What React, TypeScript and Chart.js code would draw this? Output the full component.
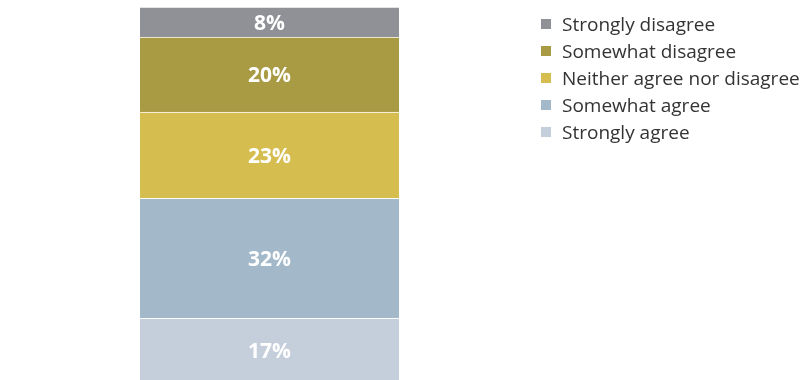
import React, { useEffect, useRef } from "react";
import { Chart, registerables } from "chart.js";

Chart.register(...registerables);

// stack order: bottom to top
const categories = ["Responses"];
const seriesLabels = ["Strongly agree", "Somewhat agree", "Neither agree nor disagree", "Somewhat disagree", "Strongly disagree"];
const seriesValues = [17, 32, 23, 20, 8];
const seriesColors = ["#c5cedb", "#a3b9c9", "#d6bd4f", "#a99b44", "#8f9196"];
const legendOrder = [4, 3, 2, 1, 0];

const labelPlugin = {
  id: "segLabels",
  afterDatasetsDraw(chart: any) {
    const ctx = chart.ctx;
    ctx.save();
    ctx.fillStyle = "#ffffff";
    ctx.font = "bold 21px 'Open Sans', sans-serif";
    ctx.textAlign = "center";
    ctx.textBaseline = "middle";
    chart.data.datasets.forEach((ds: any, i: number) => {
      const meta = chart.getDatasetMeta(i);
      meta.data.forEach((el: any, j: number) => {
        const v = ds.data[j];
        const yc = (el.y + el.base) / 2;
        ctx.fillText(v + "%", el.x, yc + 2);
      });
    });
    ctx.restore();
  },
};

export default function App() {
  const ref = useRef<HTMLCanvasElement | null>(null);
  useEffect(() => {
    if (!ref.current) return;
    const chart = new Chart(ref.current, {
      type: "bar",
      data: {
        labels: categories,
        datasets: seriesLabels.map((l, i) => ({
          label: l,
          data: [seriesValues[i]],
          backgroundColor: seriesColors[i],
          borderColor: "rgba(255,255,255,0.55)",
          borderWidth: { top: 1, bottom: 0, left: 0, right: 0 },
          borderSkipped: false,
          barPercentage: 1,
          categoryPercentage: 1,
        })),
      },
      options: {
        animation: false,
        responsive: false,
        maintainAspectRatio: false,
        layout: { padding: { left: 140, right: 410, top: 7, bottom: 0 } },
        plugins: { legend: { display: false }, tooltip: { enabled: false } },
        scales: {
          x: { stacked: true, display: false },
          y: { stacked: true, display: false, min: 0, max: 100 },
        },
      },
      plugins: [labelPlugin],
    });
    return () => chart.destroy();
  }, []);

  return (
    <div style={{ position: "fixed", left: 0, top: 0, width: 809, height: 380, background: "#fff", overflow: "hidden" }}>
      <canvas ref={ref} width={809} height={382} style={{ position: "absolute", left: 0, top: 0 }} />
      {legendOrder.map((idx, r) => (
        <div
          key={idx}
          style={{
            position: "absolute",
            left: 541,
            top: 24 + r * 27 - 13,
            height: 26,
            display: "flex",
            alignItems: "center",
            fontFamily: "'Open Sans', sans-serif",
            fontSize: 19,
            color: "#333333",
            whiteSpace: "nowrap",
          }}
        >
          <span style={{ display: "inline-block", width: 10, height: 10, background: seriesColors[idx], marginRight: 11 }} />
          <span>{seriesLabels[idx]}</span>
        </div>
      ))}
    </div>
  );
}
